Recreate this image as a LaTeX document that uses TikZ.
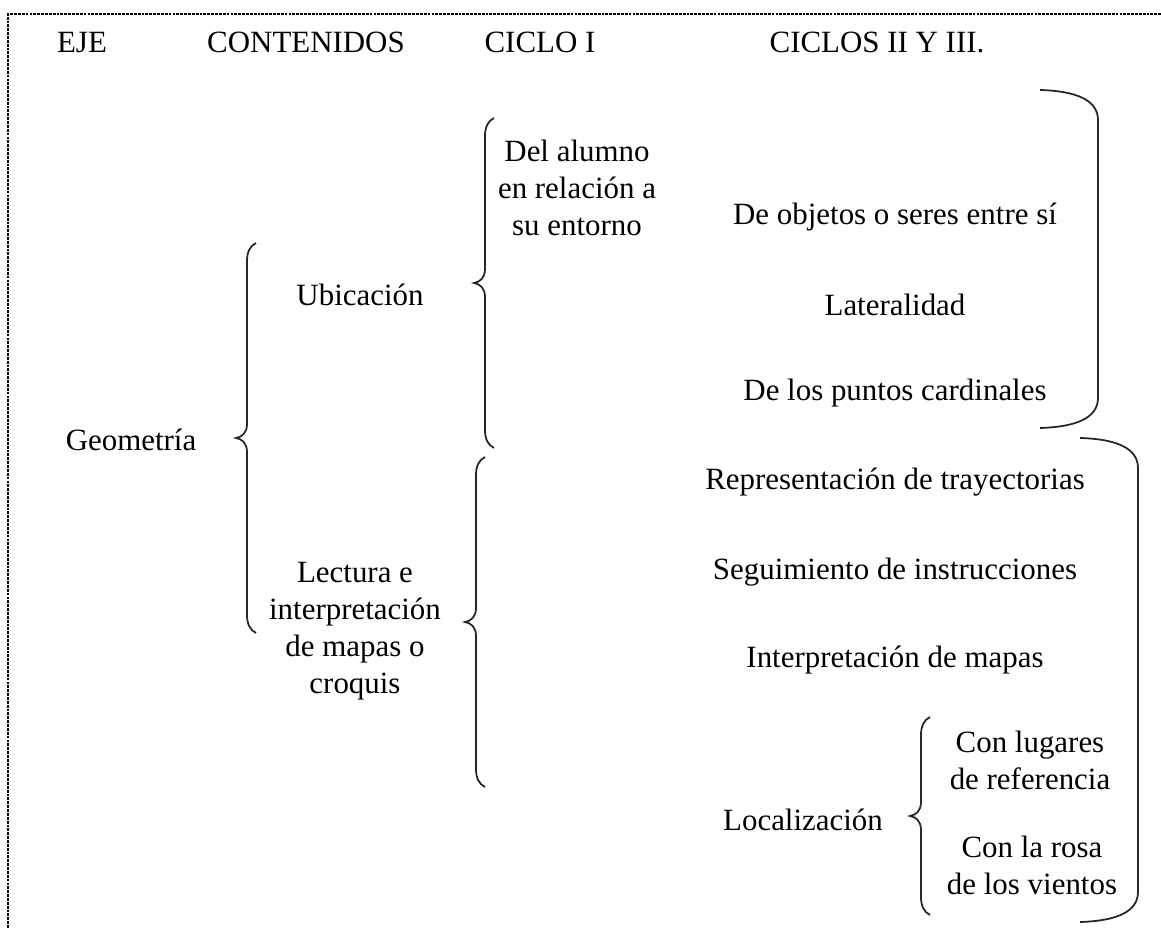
\documentclass[tikz,border=0pt]{standalone}
\usepackage{fontspec}
\setmainfont{Liberation Serif}
\usepackage{tikz}
\tikzset{
  texto/.style={font=\fontsize{17.6}{21}\selectfont, inner sep=0pt, align=center},
  titulo/.style={texto, anchor=base},
  trazo/.style={draw=black!85, line width=1pt},
  marco/.style={draw=black, line width=1pt, dash pattern=on 1.6pt off 0.6pt},
  pics/llave/.style={code={
    \draw[trazo] (20,-#1) .. controls (14,-#1+3) and (11,-#1+9) .. (11,-#1+18)
      -- (11,-14) .. controls (11,-5) and (6,-1) .. (0,0)
      .. controls (6,1) and (11,5) .. (11,14)
      -- (11,#1-18) .. controls (11,#1-9) and (14,#1-3) .. (20,#1);
  }},
  pics/cierre/.style={code={
    \draw[trazo] (-58,-#1) .. controls (-22,-#1+1) and (0,-#1+10) .. (0,-#1+30)
      -- (0,#1-30) .. controls (0,#1-10) and (-22,#1-1) .. (-58,#1);
  }},
}

\begin{document}
\begin{tikzpicture}[x=0.02cm, y=-0.02cm]
  \useasboundingbox (0,0) rectangle (1161,928);
  % frame
  \draw[marco] (1161,14) -- (8,14) -- (8,928);
  % headers
  \node[titulo] (eje) at (82,53) {EJE};
  \node[titulo] (cont) at (306,53) {CONTENIDOS};
  \node[titulo] (ciclo1) at (540,53) {CICLO I};
  \node[titulo] (ciclo23) at (877,53) {CICLOS II Y III.};
  % contents
  \node[texto] (geo) at (131,440) {Geometría};
  \node[texto] (ubic) at (360,295) {Ubicación};
  \node[texto] (lect) at (355,631) {Lectura e\\interpretación\\de mapas o\\croquis};
  \node[texto] (alum) at (577,188) {Del alumno\\en relación a\\su entorno};
  \node[texto] (objetos) at (895,217) {De objetos o seres entre sí};
  \node[texto] (lateral) at (895,305) {Lateralidad};
  \node[texto] (cardinal) at (895,393) {De los puntos cardinales};
  \node[texto] (trayect) at (895,482) {Representación de trayectorias};
  \node[texto] (instruc) at (895,572) {Seguimiento de instrucciones};
  \node[texto] (mapas) at (895,660) {Interpretación de mapas};
  \node[texto] (local) at (803,820) {Localización};
  \node[texto] (lugares) at (1030,760) {Con lugares\\de referencia};
  \node[texto] (rosa) at (1032,865) {Con la rosa\\de los vientos};
  % braces
  \pic at (236,438) {llave=195};
  \pic at (474,283) {llave=165};
  \pic at (465,622) {llave=165};
  \pic at (910,816) {llave=99};
  \pic at (1098,259) {cierre=169};
  \pic at (1138,680) {cierre=242};
\end{tikzpicture}
\end{document}
